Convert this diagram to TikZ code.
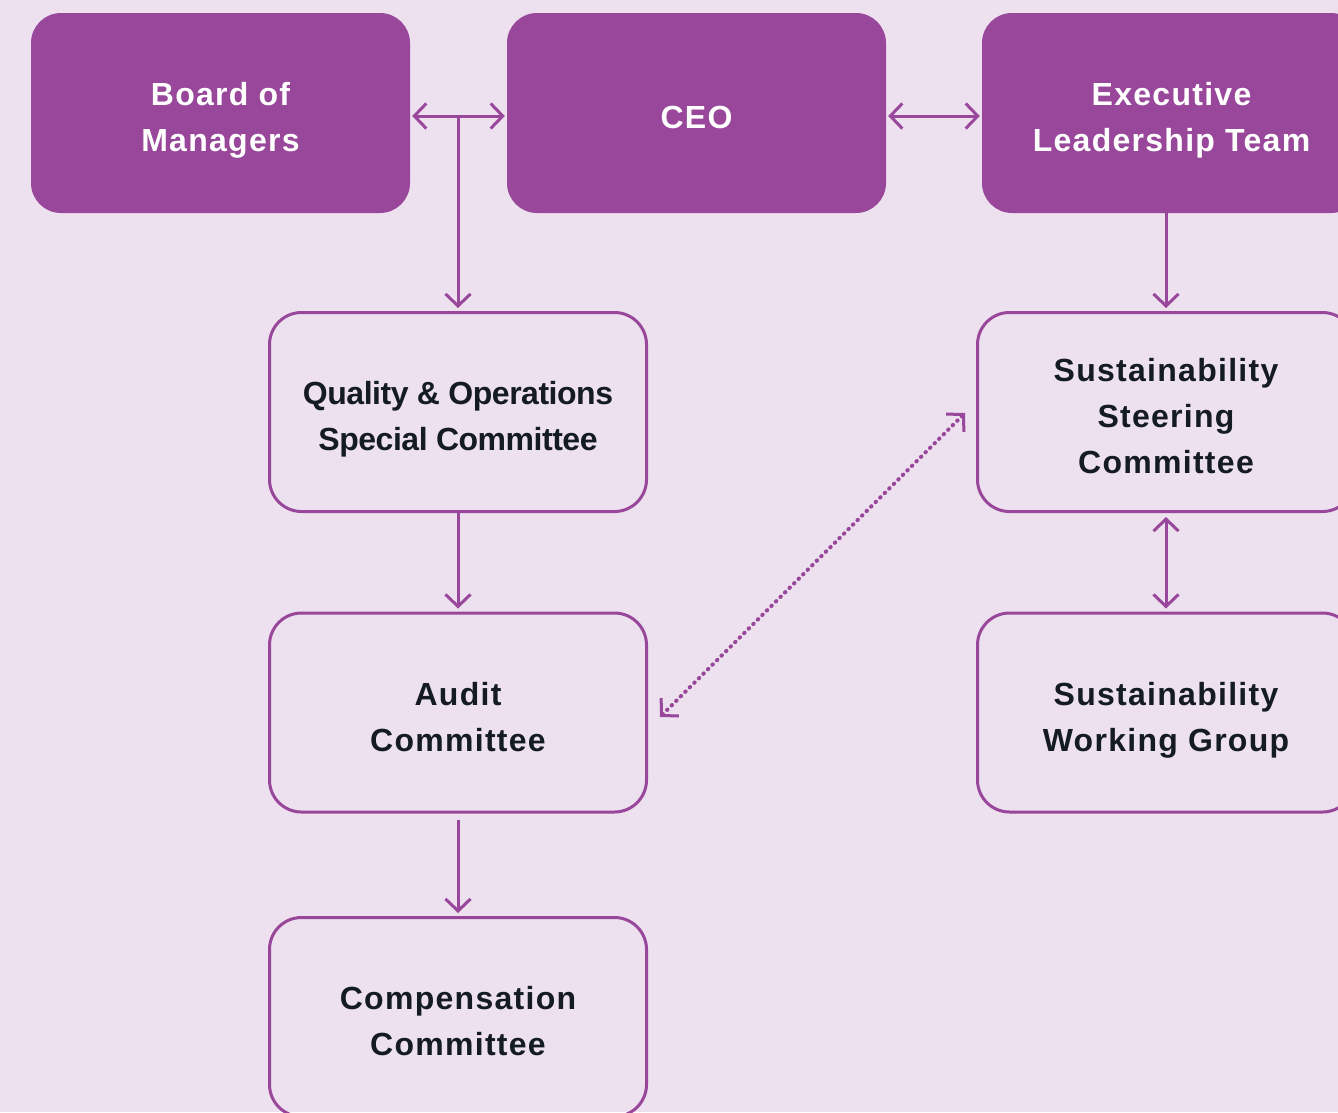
\documentclass[tikz,border=0pt]{standalone}
\usepackage{fontspec}
\setmainfont{Liberation Sans}[LetterSpace=4]
\usetikzlibrary{arrows.meta}

\definecolor{bgpink}{HTML}{EEE1EF}
\definecolor{plum}{HTML}{98479A}
\definecolor{inkdark}{HTML}{141B22}

\tikzset{
    filledbox/.style={rectangle, rounded corners=30pt, fill=plum, draw=none,
        minimum width=379pt, minimum height=200pt},
    linebox/.style={rectangle, rounded corners=32pt, fill=none, draw=plum, line width=3pt,
        minimum width=377pt, minimum height=199pt},
    boxtext/.style={align=center, text=inkdark, text depth=-9pt, yshift=-4pt,
        font=\fontsize{32}{46}\selectfont\bfseries},
    link/.style={draw=plum, line width=3pt,
        >={Straight Barb[length=12pt,width=25pt,line width=3pt]}},
}

\begin{document}
\begin{tikzpicture}[x=1pt,y=-1pt]

    % Page area and background
    \fill[bgpink] (0,0) rectangle (1338,1112);
    \useasboundingbox (0,0) rectangle (1338,1112);

    % Top row
    \node[filledbox, label={[boxtext,text=white,name=boardtxt]center:Board of\\Managers}] (board) at (220.5,113) {};
    \node[filledbox, label={[boxtext,text=white,name=ceotxt]center:CEO}] (ceo) at (696.5,113) {};
    \node[filledbox, label={[boxtext,text=white,name=exectxt]center:Executive\\Leadership Team}] (exec) at (1171.5,113) {};

    % Committees
    \node[linebox, label={[boxtext,name=qualitytxt,font=\fontsize{32}{46}\selectfont\bfseries\addfontfeature{LetterSpace=-1.5}]center:Quality \& Operations\\Special Committee}] (quality) at (458,412) {};
    \node[linebox, label={[boxtext,name=audittxt]center:Audit\\Committee}] (audit) at (458,712.5) {};
    \node[linebox, label={[boxtext,name=comptxt]center:Compensation\\Committee}] (comp) at (458,1017) {};

    % Sustainability side
    \node[linebox, label={[boxtext,name=steertxt]center:Sustainability\\Steering\\Committee}] (steer) at (1166,412) {};
    \node[linebox, label={[boxtext,name=worktxt]center:Sustainability\\Working Group}] (work) at (1166,712.5) {};

    % Horizontal links on the top row
    \draw[link,<->,shorten <=2pt,shorten >=2pt] ([yshift=-3pt]board.east) -- ([yshift=-3pt]ceo.west);
    \draw[link,<->,shorten <=2pt,shorten >=2pt] ([yshift=-3pt]ceo.east) -- ([yshift=-3pt]exec.west);

    % Branch from the board link down to the committees
    \coordinate (bj) at ([yshift=-3pt]board.east -| quality.north);
    \draw[link,->,shorten >=3pt] (bj) -- (quality.north);
    \draw[link,->,shorten >=3pt] (quality.south) -- (audit.north);
    \draw[link,->,shorten <=6pt,shorten >=3pt] (audit.south) -- (comp.north);

    % Executive team to the sustainability committees
    \draw[link,->,shorten >=3pt] (steer.north |- exec.south) -- (steer.north);
    \draw[link,<->,shorten <=4pt,shorten >=3pt] (steer.south) -- (work.north);

    % Dotted link between audit and steering
    \draw[link,<->,line width=4pt,line cap=round,dash pattern=on 0.6pt off 5.8pt]
        ([xshift=12pt,yshift=-4.5pt]audit.east) -- ([xshift=-11pt,yshift=-1pt]steer.west);

\end{tikzpicture}
\end{document}
